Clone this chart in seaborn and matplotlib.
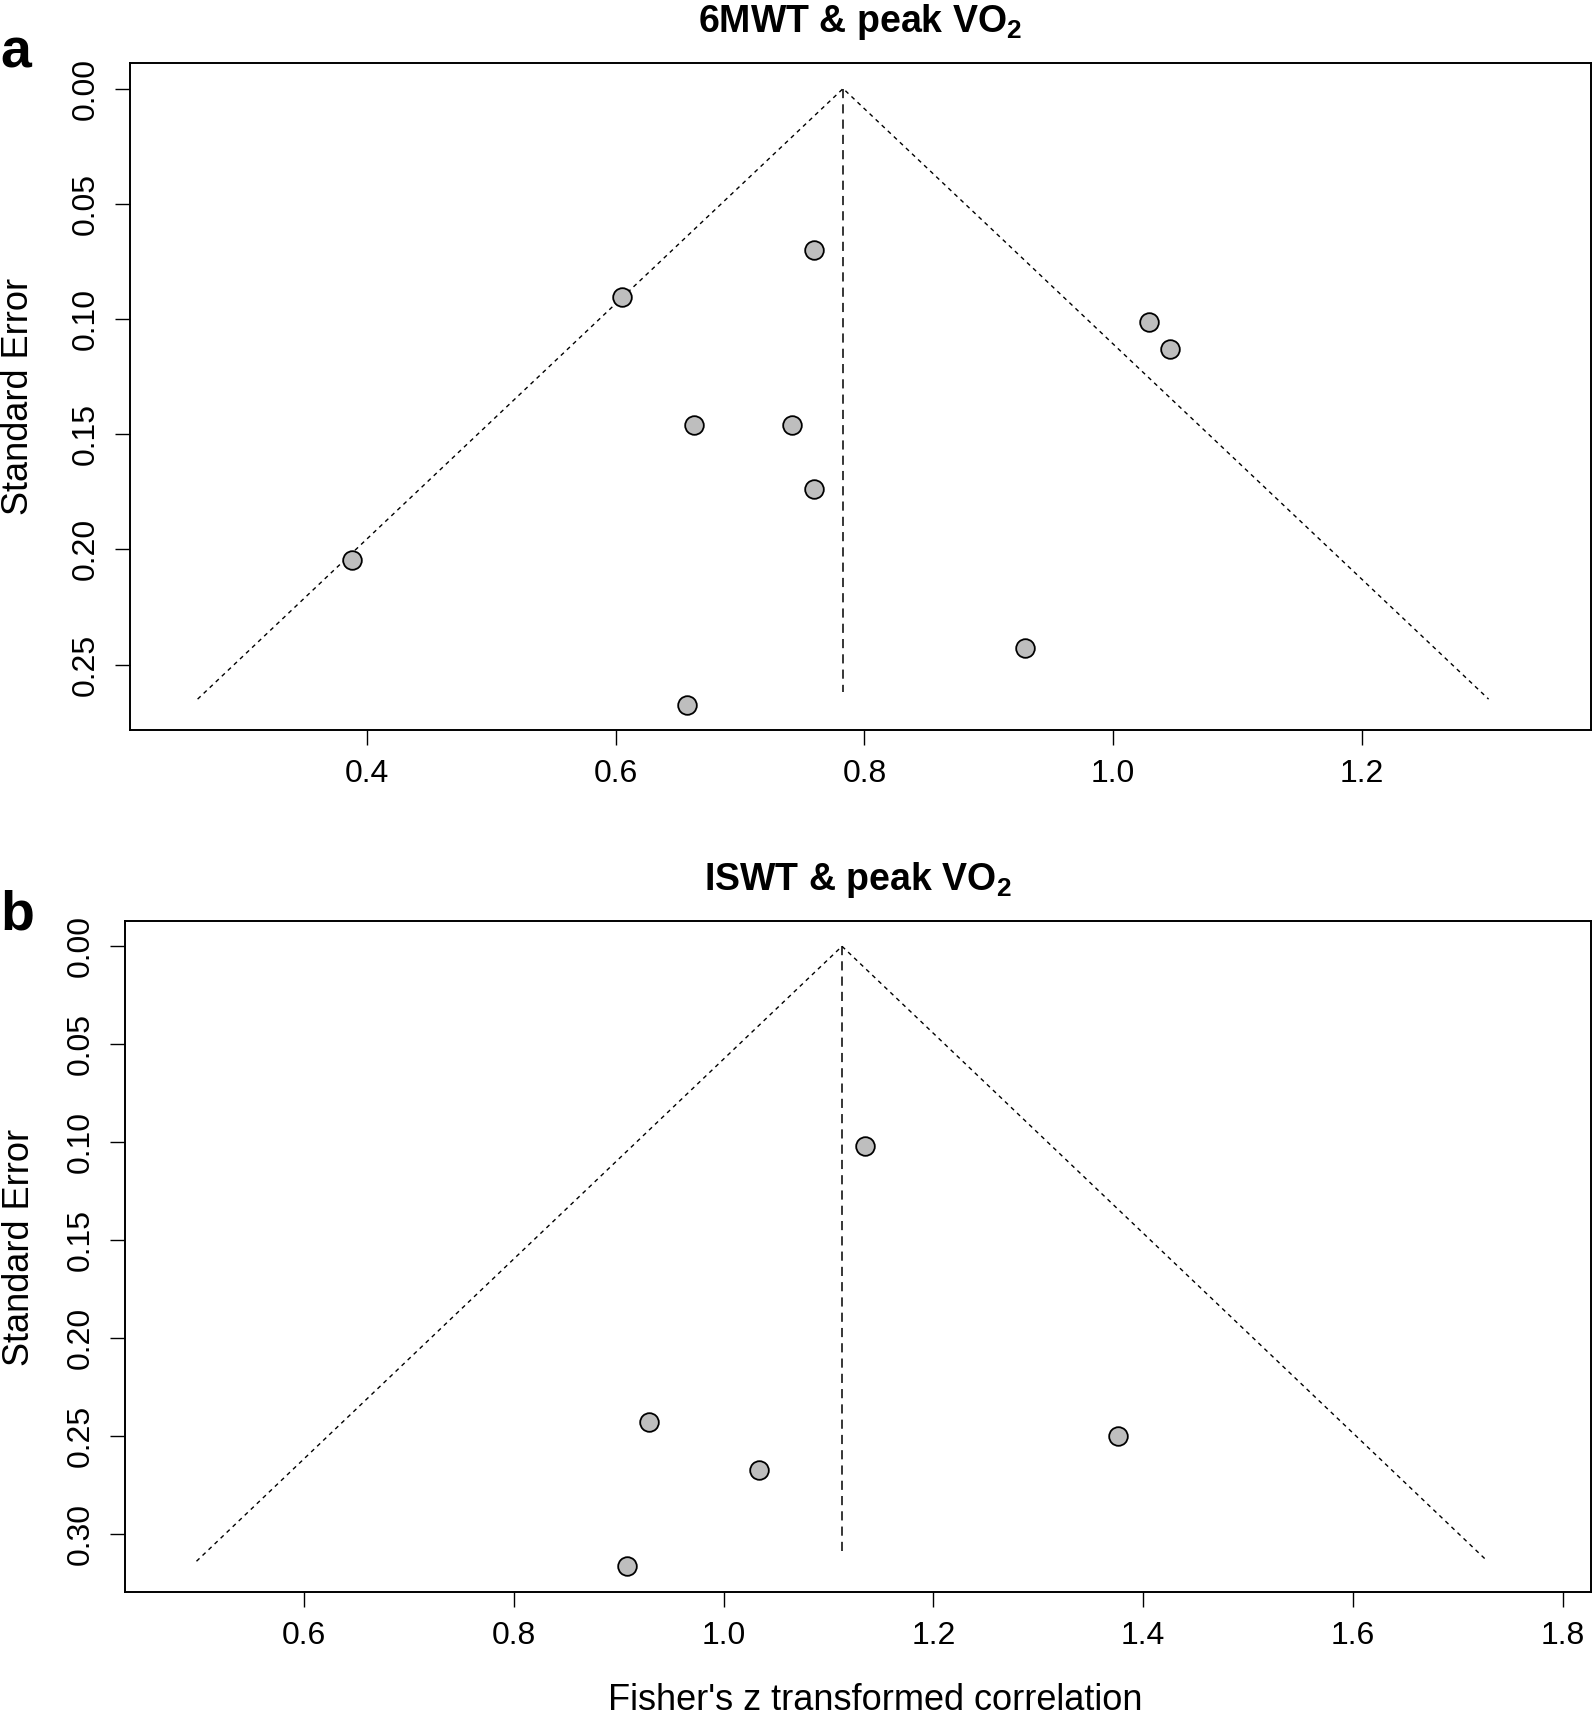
import matplotlib
matplotlib.use("Agg")
import matplotlib.pyplot as plt
import seaborn as sns
import numpy as np
import pandas as pd

sns.set_style("white")
plt.rcParams['font.family'] = ['Liberation Sans', 'DejaVu Sans']
plt.rcParams['mathtext.fontset'] = 'custom'
plt.rcParams['mathtext.rm'] = 'Liberation Sans'
plt.rcParams['mathtext.bf'] = 'Liberation Sans:bold'
for k in ['text.color', 'axes.labelcolor', 'xtick.color', 'ytick.color', 'axes.edgecolor']:
    plt.rcParams[k] = 'black'

# panel a: 6MWT & peak VO2
a_z  = [0.759, 0.6045, 0.663, 0.742, 0.759, 0.3877, 0.6575, 1.0286, 1.046, 0.9288]
a_se = [0.0701, 0.0905, 0.1462, 0.1462, 0.1737, 0.2046, 0.2676, 0.1014, 0.1130, 0.2429]
a_est, a_se_max, a_ref_end = 0.7828, 0.2650, 0.2620
a_xticks = [0.4, 0.6, 0.8, 1.0, 1.2]
a_yticks = [0.00, 0.05, 0.10, 0.15, 0.20, 0.25]

# panel b: ISWT & peak VO2
b_z  = [1.1351, 0.929, 1.0342, 1.376, 0.9075]
b_se = [0.1020, 0.2427, 0.2673, 0.2500, 0.3164]
b_est, b_se_max, b_ref_end = 1.1129, 0.3140, 0.3090
b_xticks = [0.6, 0.8, 1.0, 1.2, 1.4, 1.6, 1.8]
b_yticks = [0.00, 0.05, 0.10, 0.15, 0.20, 0.25, 0.30]

Z = 1.96

fig = plt.figure(figsize=(15.94, 17.18), dpi=100)
ax_a = fig.add_axes([130/1594, 1-730/1718, 1461/1594, 667/1718])
ax_b = fig.add_axes([125/1594, 1-1592/1718, 1466/1594, 671/1718])


def funnel(ax, z, se, est, se_max, ref_end, xticks, yticks, xlim, ylim, title):
    # pseudo confidence region
    ax.plot([est - Z*se_max, est, est + Z*se_max], [se_max, 0, se_max],
            color='black', lw=1.0, ls=(0, (3, 3)))
    ax.plot([est, est], [0, ref_end], color='black', lw=1.1, ls=(0, (6, 4)))
    df = pd.DataFrame({'z': z, 'se': se})
    sns.scatterplot(data=df, x='z', y='se', ax=ax, s=180, color='#bebebe',
                    edgecolor='black', linewidth=1.3, zorder=3)
    ax.set_xlim(*xlim)
    ax.set_ylim(*ylim)
    ax.set_xticks(xticks)
    ax.set_xticklabels(['%.1f' % t for t in xticks])
    ax.set_yticks(yticks)
    ax.set_yticklabels(['%.2f' % t for t in yticks])
    ax.tick_params(axis='both', direction='out', length=11, width=1.0,
                   labelsize=23, pad=10, bottom=True, left=True, colors='black')
    for lab in ax.get_yticklabels():
        lab.set_rotation(90)
        lab.set_va('center')
    for sp in ax.spines.values():
        sp.set_linewidth(1.4)
        sp.set_color('black')
    ax.set_xlabel('')
    ax.set_ylabel('Standard Error', fontsize=26)
    ax.yaxis.label.set_va('center')
    ax.set_title(title, fontsize=27, fontweight='bold', pad=22)


funnel(ax_a, a_z, a_se, a_est, a_se_max, a_ref_end, a_xticks, a_yticks,
       (0.209, 1.3846), (0.2784, -0.0111), r"6MWT & peak VO$_\mathbf{2}$")
funnel(ax_b, b_z, b_se, b_est, b_se_max, b_ref_end, b_xticks, b_yticks,
       (0.4293, 1.827), (0.3297, -0.0129), r"ISWT & peak VO$_\mathbf{2}$")

ax_a.yaxis.set_label_coords(-0.076, 0.5)
ax_b.yaxis.set_label_coords(-0.072, 0.513)

ax_b.set_xlabel("Fisher's z transformed correlation", fontsize=26)
ax_b.xaxis.set_label_coords(0.512, -0.176)
ax_b.xaxis.label.set_va('baseline')

fig.text(0.0, 1-68/1718, 'a', fontsize=40, fontweight='bold', va='baseline', ha='left')
fig.text(0.0, 1-930/1718, 'b', fontsize=40, fontweight='bold', va='baseline', ha='left')

fig.savefig('out.png', dpi=100, facecolor='white')
